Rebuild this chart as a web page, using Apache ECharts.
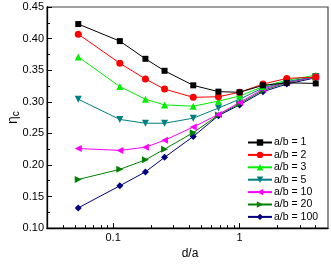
<!DOCTYPE html>
<html><head><meta charset="utf-8">
<script src="https://cdn.jsdelivr.net/npm/echarts@6/dist/echarts.min.js"></script>
<style>html,body{margin:0;padding:0;background:#fff}#c{width:331px;height:265px}</style>
</head><body><div id="c"></div>
<script>
const dA = [0.053, 0.113, 0.18, 0.255, 0.43, 0.68, 1.0, 1.53, 2.36, 4.0];
const ab1   = [0.423, 0.396, 0.368, 0.349, 0.326, 0.316, 0.315, 0.326, 0.330, 0.329];
const ab2   = [0.407, 0.361, 0.336, 0.320, 0.307, 0.308, 0.315, 0.328, 0.337, 0.339];
const ab3   = [0.371, 0.324, 0.304, 0.295, 0.293, 0.301, 0.309, 0.324, 0.334, 0.342];
const ab5   = [0.304, 0.272, 0.266, 0.266, 0.274, 0.290, 0.304, 0.322, 0.332, 0.340];
const ab10  = [0.226, 0.223, 0.228, 0.239, 0.260, 0.280, 0.299, 0.320, 0.331, 0.339];
const ab20  = [0.177, 0.193, 0.208, 0.225, 0.251, 0.279, 0.297, 0.318, 0.330, 0.339];
const ab100 = [0.132, 0.167, 0.189, 0.212, 0.245, 0.278, 0.295, 0.316, 0.328, 0.338];
const seriesNames = ['a/b = 1','a/b = 2','a/b = 3','a/b = 5','a/b = 10','a/b = 20','a/b = 100'];
const xMajor = [0.1, 1];
const xMinor = [0.04,0.05,0.06,0.07,0.08,0.09,0.2,0.3,0.4,0.5,0.6,0.7,0.8,0.9,2,3,4];

const values = [ab1, ab2, ab3, ab5, ab10, ab20, ab100];
const colors = ['#000000','#ff0000','#00ee00','#008080','#ff00ff','#008000','#000080'];
const symbols = ['rect','circle','triangle','triangle','triangle','triangle','diamond'];
const rots = [0,0,0,180,90,-90,0];
const sizes = [6,7,7,7,7,7,7];
const FONT = 'Liberation Sans, Arial, sans-serif';

const chart = echarts.init(document.getElementById('c'), null, {renderer:'canvas'});
chart.setOption({
  animation:false,
  backgroundColor:'#fff',
  grid:{left:47, top:7, right:3, bottom:28, show:true, borderColor:'#444', borderWidth:1.2, backgroundColor:'transparent'},
  xAxis:[{
    type:'log', logBase:10, min:0.03, max:5,
    name:'d/a', nameLocation:'middle', nameGap:12,
    nameTextStyle:{fontFamily:FONT, fontSize:12, color:'#000', padding:[0,0,0,5]},
    axisLine:{lineStyle:{color:'#000', width:1.3}},
    axisTick:{inside:true, length:5, customValues:xMajor, lineStyle:{color:'#000'}},
    axisLabel:{customValues:xMajor, fontFamily:FONT, fontSize:11, color:'#000', margin:4},
    splitLine:{show:false}, minorTick:{show:false}
  },{
    type:'log', logBase:10, min:0.03, max:5, position:'bottom',
    axisLine:{show:false},
    axisTick:{inside:true, length:3, customValues:xMinor, lineStyle:{color:'#000'}},
    axisLabel:{show:false}, splitLine:{show:false}
  }],
  yAxis:{
    type:'value', min:0.10, max:0.45, interval:0.05,
    axisLine:{show:true, lineStyle:{color:'#000', width:1.3}},
    axisTick:{inside:true, length:5, lineStyle:{color:'#000'}},
    minorTick:{show:true, splitNumber:2, length:3, lineStyle:{color:'#000'}},
    axisLabel:{fontFamily:FONT, fontSize:11, color:'#000', margin:3, formatter:v=>v.toFixed(2)},
    splitLine:{show:false}
  },
  legend:{
    orient:'vertical', left:242, top:132, itemWidth:24, itemHeight:8, itemGap:1.4,
    textStyle:{fontFamily:FONT, fontSize:10.5, color:'#000', padding:[0,0,0,-3]},
    data:seriesNames
  },
  graphic:[{
    type:'text', x:6, y:124, rotation:Math.PI/2,
    style:{
      text:'{a|η}{b|c}',
      rich:{a:{fontFamily:FONT, fontSize:14, fill:'#000'}, b:{fontFamily:FONT, fontSize:10, fill:'#000', padding:[5,0,0,0]}},
      align:'left', verticalAlign:'top'
    }
  }],
  series: values.map((vals,i)=>({
    name:seriesNames[i], type:'line', xAxisIndex:0,
    data: dA.map((x,j)=>[x, vals[j]]),
    symbol:symbols[i], symbolRotate:rots[i], symbolSize:sizes[i], showAllSymbol:true,
    lineStyle:{color:colors[i], width:1},
    itemStyle:{color:colors[i]},
    z: 10-i
  }))
});
</script></body></html>
